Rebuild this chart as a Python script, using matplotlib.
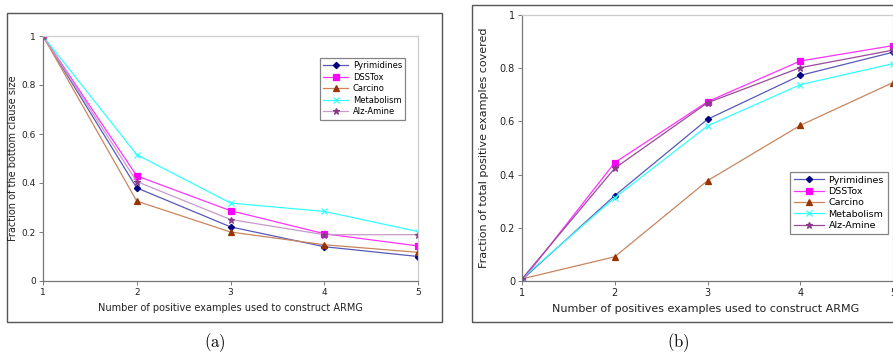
import matplotlib
matplotlib.use('Agg')
import matplotlib.pyplot as plt
from matplotlib.patches import Rectangle

plt.rcParams['mathtext.fontset'] = 'cm'

x = [1, 2, 3, 4, 5]
names = ['Pyrimidines', 'DSSTox', 'Carcino', 'Metabolism', 'Alz-Amine']

# (a) fraction of the bottom clause size
a_pyr = [1, 0.380, 0.221, 0.140, 0.100]
a_dss = [1, 0.429, 0.287, 0.193, 0.143]
a_car = [1, 0.326, 0.200, 0.148, 0.117]
a_met = [1, 0.516, 0.318, 0.284, 0.202]
a_alz = [1, 0.406, 0.251, 0.189, 0.189]

# (b) fraction of total positive examples covered
b_pyr = [0.005, 0.321, 0.608, 0.773, 0.860]
b_dss = [0.000, 0.445, 0.674, 0.827, 0.885]
b_car = [0.008, 0.091, 0.377, 0.585, 0.746]
b_met = [0.010, 0.313, 0.583, 0.738, 0.817]
b_alz = [0.008, 0.424, 0.670, 0.802, 0.868]

line_cols = ['#5858b8', '#ff33ff', '#c8865e', '#33ffff', '#b070b0']
mark_cols = ['#000080', '#ff00ff', '#993300', '#33ffff', '#8a3a8a']
markers = ['D', 's', '^', 'x', '*']
msizes = [3.2, 5, 4.5, 5, 4.5]

W, H = 893, 354
fig = plt.figure(figsize=(W / 100, H / 100), dpi=100)


def fx(px):
    return px / W


def fy(py):
    return 1 - py / H


def panel(rect, data, tick_fs, leg_fs, leg_anchor, alz_line, hlen, lspace):
    ax = fig.add_axes(rect)
    cols = list(line_cols)
    cols[4] = alz_line
    for i, ys in enumerate(data):
        ax.plot(x, ys, color=cols[i], lw=0.9, marker=markers[i], ms=msizes[i],
                mfc=mark_cols[i], mec=mark_cols[i], mew=0.9, label=names[i])
    ax.set_xlim(1, 5)
    ax.set_ylim(0, 1)
    ax.set_xticks(x)
    ax.set_yticks([0, 0.2, 0.4, 0.6, 0.8, 1])
    ax.set_yticklabels(['0', '0.2', '0.4', '0.6', '0.8', '1'])
    ax.tick_params(labelsize=tick_fs, length=3, width=0.6, color='#666666',
                   labelcolor='#222222', pad=2)
    for s in ['left', 'bottom']:
        ax.spines[s].set_color('#777777')
        ax.spines[s].set_linewidth(0.9)
    for s in ['top', 'right']:
        ax.spines[s].set_color('#cccccc')
        ax.spines[s].set_linewidth(0.9)
    leg = ax.legend(loc='upper left', bbox_to_anchor=leg_anchor, fontsize=leg_fs,
                    frameon=True, fancybox=False, handlelength=hlen,
                    borderpad=0.4, borderaxespad=0, labelspacing=lspace,
                    handletextpad=0.5)
    leg.get_frame().set_edgecolor('#666666')
    leg.get_frame().set_linewidth(0.9)
    return ax


ax1 = panel([fx(43), fy(281), fx(418 - 43), (281 - 36) / H],
            [a_pyr, a_dss, a_car, a_met, a_alz],
            6.5, 6.0, (0.739, 0.91), '#c89ac8', 3.0, 0.3)
ax2 = panel([fx(522), fy(281), fx(893 - 522), (281 - 15) / H],
            [b_pyr, b_dss, b_car, b_met, b_alz],
            7, 6.8, (0.722, 0.41), '#9a4a9a', 3.2, 0.25)

# outer frames
fig.patches.append(Rectangle((fx(7), fy(322)), fx(442 - 7), (322 - 13) / H,
                             transform=fig.transFigure, fill=False,
                             edgecolor='#555555', lw=1.0))
fig.patches.append(Rectangle((fx(472), fy(322)), fx(930 - 472), (322 - 5) / H,
                             transform=fig.transFigure, fill=False,
                             edgecolor='#555555', lw=1.0))

fig.text(fx(230), fy(308), 'Number of positive examples used to construct ARMG',
         fontsize=7, ha='center', va='center', color='#222222')
fig.text(fx(13), fy(158), 'Fraction of the bottom clause size',
         fontsize=7, ha='center', va='center', rotation=90, color='#222222')
fig.text(fx(706), fy(309), 'Number of positives examples used to construct ARMG',
         fontsize=8, ha='center', va='center', color='#222222')
fig.text(fx(484), fy(148), 'Fraction of total positive examples covered',
         fontsize=8, ha='center', va='center', rotation=90, color='#222222')

fig.text(fx(215), fy(343), r'$\mathrm{(a)}$', fontsize=12, ha='center', va='center')
fig.text(fx(678), fy(343), r'$\mathrm{(b)}$', fontsize=12, ha='center', va='center')

fig.savefig('out.png', dpi=100)
